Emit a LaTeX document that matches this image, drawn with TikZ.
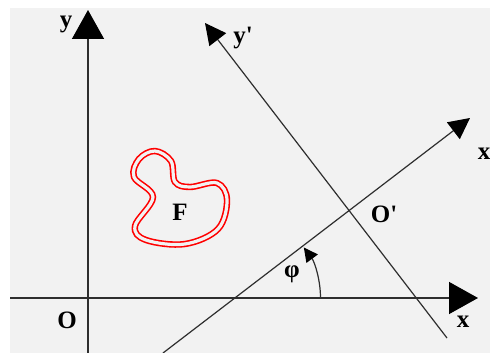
\documentclass[tikz,border=0pt]{standalone}
\usepackage{fontspec}
\setmainfont{Liberation Serif}[Ligatures=TeXOff]
\usetikzlibrary{arrows.meta}
\definecolor{bggray}{HTML}{F2F2F2}
\definecolor{axcol}{HTML}{2E2E2E}
\begin{document}
\begin{tikzpicture}[x=1pt,y=1pt,
  axis/.style={draw=axcol,line width=1.4pt},
  bighead/.style={-{Triangle[length=29pt,width=32pt,color=black]}},
  midhead/.style={-{Triangle[length=21pt,width=21pt,color=black]}},
  lbl/.style={font=\fontsize{25}{27}\selectfont\bfseries,inner sep=0pt,text=black}]
\useasboundingbox (0,0) rectangle (490,353);
\fill[white] (0,0) rectangle (490,353);
\fill[bggray] (10,0) rectangle (490,345);
% coordinates
\coordinate (yb) at (88,0);
\coordinate (yt) at (88,343);
\coordinate (xl) at (10,55);
\coordinate (xr) at (478,55);
\coordinate (xpb) at (163,0);
\coordinate (xpt) at (470,235);
\coordinate (ypb) at (447,15);
\coordinate (ypt) at (205,330);
\coordinate (ac) at (235.5,55);
% axes
\draw[axis,bighead] (yb) -- (yt);
\draw[axis,bighead] (xl) -- (xr);
\draw[axis,midhead,line width=1.2pt] (xpb) -- (xpt);
\draw[axis,midhead,line width=1.2pt] (ypb) -- (ypt);
% angle arc
\draw[axcol,line width=1.2pt,-{Triangle[length=14pt,width=14pt,color=black]}] ([shift={(0:85)}]ac) arc[start angle=0,end angle=36.5,radius=85];
% figure F
\draw[red,line width=1.6pt,double=bggray,double distance=3.2pt] plot[smooth cycle,tension=0.6] coordinates
 {(155,202) (171,192) (175,171) (190,166) (217,170) (227,153) (218,124) (185,109) (146,113) (135,127) (153,156) (134,176) (139,194)};
% labels
\node[lbl] (ylab) at (66,329) {y};
\node[lbl] (olab) at (67,33) {O};
\node[lbl] (xlab) at (463,31) {x};
\node[lbl] (xplab) at (484,199) {x};
\node[lbl] (yplab) at (243,315) {y'};
\node[lbl] (oplab) at (384,139) {O'};
\node[lbl] (philab) at (292,79) {φ};
\node[lbl] (flab) at (180,141) {F};
\end{tikzpicture}
\end{document}
